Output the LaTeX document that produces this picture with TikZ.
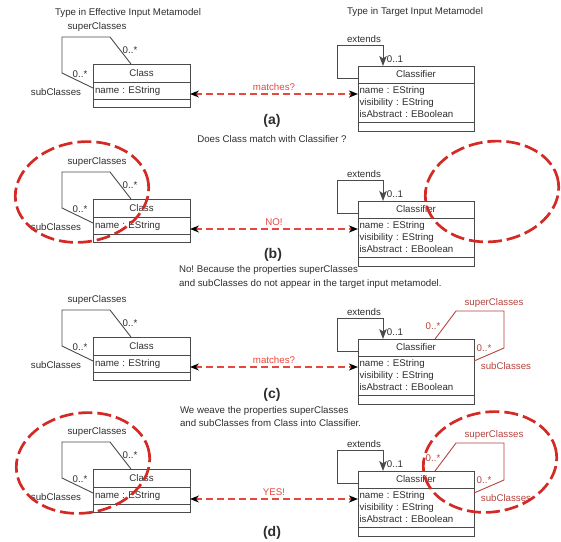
\documentclass[tikz,border=0pt]{standalone}
\usepackage{fontspec}
\setmainfont{Liberation Sans}
\usetikzlibrary{arrows.meta}
\frenchspacing
\definecolor{txt}{HTML}{2E2E2E}
\definecolor{boxc}{HTML}{4A4A4A}
\definecolor{arrred}{HTML}{E5483E}
\definecolor{ellred}{HTML}{D42A25}
\definecolor{weavered}{HTML}{B5423D}
\tikzset{
  every node/.style={font=\fontsize{9.7}{12}\selectfont, text=txt, inner sep=0pt, outer sep=0pt},
  comp/.style={draw=boxc, line width=0.9pt, minimum width=97pt, inner sep=0pt},
  clfcomp/.style={comp, minimum width=116pt},
  assoc/.style={draw=boxc, line width=0.9pt},
  matcharrow/.style={draw=arrred, line width=1.4pt, dash pattern=on 7pt off 4pt,
     {Stealth[color=black,length=9pt,width=7pt,inset=3pt]}-{Stealth[color=black,length=9pt,width=7pt,inset=2.5pt]}},
  weave/.style={draw=weavered, line width=0.9pt},
  weavetxt/.style={text=weavered},
  ell/.style={draw=ellred, line width=2.7pt, dash pattern=on 14pt off 5pt},
  lab/.style={font=\fontsize{14}{16}\selectfont\bfseries},
  expl/.style={anchor=west, align=left, font=\fontsize{9.7}{13.5}\selectfont}
}
\newcommand\mypanel[4]{%
\begin{scope}[shift={(0,#1)}]
  % Class
  \node[comp, minimum height=18pt] (clsh#2) at (141.5,73) {Class};
  \node[comp, minimum height=17pt, text width=93pt, inner xsep=2pt, align=left] (clsa#2) at (141.5,90.5) {name : EString};
  \node[comp, minimum height=8pt] (clse#2) at (141.5,103) {};
  \draw[assoc] ([xshift=38pt]clsh#2.north west) -- ++(-21,-27) -- ++(-48,0) -- ++(0,36) -- ([yshift=2.5pt]clsa#2.west);
  \node (sup#2) at (97,27) {superClasses};
  \node (m1#2) at (130,50) {0..*};
  \node (m2#2) at (80,74) {0..*};
  \node (sub#2) at (56,92) {subClasses};
  % Classifier
  \node[clfcomp, minimum height=17pt] (clfh#2) at (416,74.5) {Classifier};
  \node[clfcomp, minimum height=39pt, text width=113pt, inner xsep=1.5pt, align=left] (clfa#2) at (416,102.5) {name : EString\\visibility : EString\\isAbstract : EBoolean};
  \node[clfcomp, minimum height=9pt] (clfe#2) at (416,126.5) {};
  \draw[assoc, -{Stealth[length=10pt,width=7.5pt,inset=2.5pt]}] ([yshift=-3.5pt]clfh#2.west) -- ++(-21,0) -- ++(0,-33) -- ++(46,0) -- ([xshift=25pt]clfh#2.north west);
  \node (ext#2) at (364,39) {extends};
  \node (m3#2) at (395,59) {0..1};
  % matching arrow
  \draw[matcharrow] ([yshift=-3.5pt]clsa#2.east) -- node[midway, yshift=7pt, text=arrred] (ml#2) {#3} ([yshift=8.5pt]clfa#2.west);
  \ifnum#4=1
    \draw[weave] ([xshift=77pt]clfh#2.north west) -- ++(21,-28) -- ++(48,0) -- ++(0,37) -- ([yshift=14.5pt]clfa#2.east);
    \node[weavetxt] (wsup#2) at (494,30) {superClasses};
    \node[weavetxt] (wm1#2) at (433,53) {0..*};
    \node[weavetxt] (wm2#2) at (484,75) {0..*};
    \node[weavetxt] (wsub#2) at (506,93) {subClasses};
  \fi
\end{scope}}
\begin{document}
\begin{tikzpicture}[x=1pt, y=-1pt]
\useasboundingbox (0,0) rectangle (561,541);
\node (t1) at (128,13) {Type in Effective Input Metamodel};
\node (t2) at (415,12) {Type in Target Input Metamodel};
\mypanel{0}{a}{matches?}{0}
\node[lab] (la) at (272,121) {(a)};
\node (qa) at (272,139) {Does Class match with Classifier ?};
\mypanel{135}{b}{NO!}{0}
\draw[ell] (82,192) ellipse [x radius=67pt, y radius=50pt, rotate=8];
\draw[ell] (492,191.5) ellipse [x radius=67pt, y radius=50pt, rotate=8];
\node[lab] (lb) at (273,255) {(b)};
\node[expl] (qb) at (179,277) {No! Because the properties superClasses\\and subClasses do not appear in the target input metamodel.};
\mypanel{273}{c}{matches?}{1}
\node[lab] (lc) at (272,395) {(c)};
\node[expl] (qc) at (180,416.5) {We weave the properties superClasses\\and subClasses from Class into Classifier.};
\mypanel{405}{d}{YES!}{1}
\draw[ell] (83,463) ellipse [x radius=67pt, y radius=50pt, rotate=8];
\draw[ell] (490,462) ellipse [x radius=67pt, y radius=50pt, rotate=8];
\node[lab] (ld) at (272,533) {(d)};
\end{tikzpicture}
\end{document}
